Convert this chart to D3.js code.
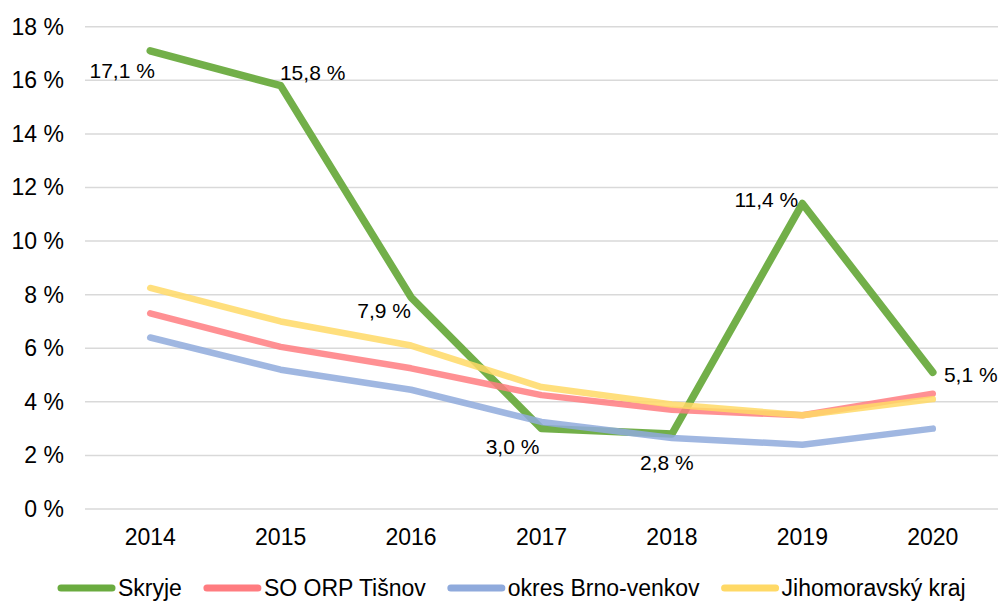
<!DOCTYPE html>
<html>
<head>
<meta charset="utf-8">
<script src="https://cdn.jsdelivr.net/npm/d3@7"></script>
<style>
  body { margin: 0; background: #fff; }
  text { font-family: "Liberation Sans", Arial, sans-serif; fill: #000; }
</style>
</head>
<body>
<div id="chart"></div>
<script>
// data
const years = ['2014', '2015', '2016', '2017', '2018', '2019', '2020'];
const skryje = [17.1, 15.8, 7.9, 3.0, 2.8, 11.4, 5.1];
const tisnov = [7.3, 6.05, 5.25, 4.25, 3.7, 3.5, 4.3];
const brnoVenkov = [6.4, 5.2, 4.45, 3.25, 2.65, 2.4, 3.0];
const jmk = [8.25, 7.0, 6.1, 4.55, 3.9, 3.5, 4.1];
const seriesNames = ['Skryje', 'SO ORP Tišnov', 'okres Brno-venkov', 'Jihomoravský kraj'];
const yTicks = [0, 2, 4, 6, 8, 10, 12, 14, 16, 18];

const colors = ['#6aab3f', '#ff7c80', '#8faadc', '#ffd966'];
const allSeries = [skryje, tisnov, brnoVenkov, jmk];

const width = 999, height = 601;
const svg = d3.select('#chart').append('svg')
	.attr('width', width)
	.attr('height', height);

svg.append('rect').attr('width', width).attr('height', height).attr('fill', '#fff');

const x = d3.scaleBand().domain(years).range([85, 998]).padding(0);
const y = d3.scaleLinear().domain([0, 18]).range([509, 26.7]);
const cx = d => x(d) + x.bandwidth() / 2;

// gridlines
svg.append('g')
	.selectAll('line')
	.data(yTicks)
	.enter().append('line')
	.attr('x1', 85).attr('x2', 998)
	.attr('y1', d => y(d)).attr('y2', d => y(d))
	.attr('stroke', '#d9d9d9')
	.attr('stroke-width', 1.5);

// y axis labels
const yAxis = svg.append('g')
	.attr('transform', 'translate(64,0)')
	.call(d3.axisLeft(y).tickValues(yTicks).tickSize(0).tickPadding(0)
		.tickFormat(d => d + ' %'));
yAxis.select('.domain').remove();
yAxis.selectAll('text')
	.style('font-size', '23px')
	.style('font-family', '"Liberation Sans", Arial, sans-serif')
	.attr('fill', '#000');

// x axis labels
const xAxis = svg.append('g')
	.attr('transform', 'translate(0,' + 529 + ')')
	.call(d3.axisBottom(x).tickSize(0).tickPadding(0));
xAxis.select('.domain').remove();
xAxis.selectAll('text')
	.style('font-size', '23px')
	.style('font-family', '"Liberation Sans", Arial, sans-serif')
	.attr('fill', '#000');

// lines
const line = d3.line()
	.x((d, i) => cx(years[i]))
	.y(d => y(d));

svg.append('g')
	.selectAll('path')
	.data(allSeries)
	.enter().append('path')
	.attr('d', d => line(d))
	.attr('fill', 'none')
	.attr('stroke', (d, i) => colors[i])
	.attr('stroke-width', (d, i) => i == 0 ? 7.5 : 6.5)
	.attr('stroke-linecap', 'round')
	.attr('stroke-linejoin', 'round')
	.attr('stroke-opacity', (d, i) => i == 0 ? 0.95 : 0.85);

// data labels for Skryje
const labelOffsets = [[-28, 27], [32, -6], [-27, 21], [-29, 25], [-5, 36], [-36, 3], [38, 10]];
svg.append('g')
	.selectAll('text')
	.data(skryje)
	.enter().append('text')
	.attr('x', (d, i) => cx(years[i]) + labelOffsets[i][0])
	.attr('y', (d, i) => y(d) + labelOffsets[i][1])
	.attr('text-anchor', 'middle')
	.style('font-size', '21px')
	.text(d => d.toFixed(1).replace('.', ',') + ' %');

// legend
const legend = svg.append('g').attr('transform', 'translate(0,588)');
let lx = 57;
seriesNames.forEach((name, i) => {
	const item = legend.append('g').attr('transform', 'translate(' + lx + ',0)');
	item.append('line')
		.attr('x1', 4).attr('x2', 55)
		.attr('y1', 0).attr('y2', 0)
		.attr('stroke', colors[i])
		.attr('stroke-width', 7)
		.attr('stroke-linecap', 'round');
	const t = item.append('text')
		.attr('x', 61)
		.attr('dy', '0.35em')
		.style('font-size', '23px')
		.text(name);
	lx += 61 + t.node().getComputedTextLength() + 21;
});
</script>
</body>
</html>
